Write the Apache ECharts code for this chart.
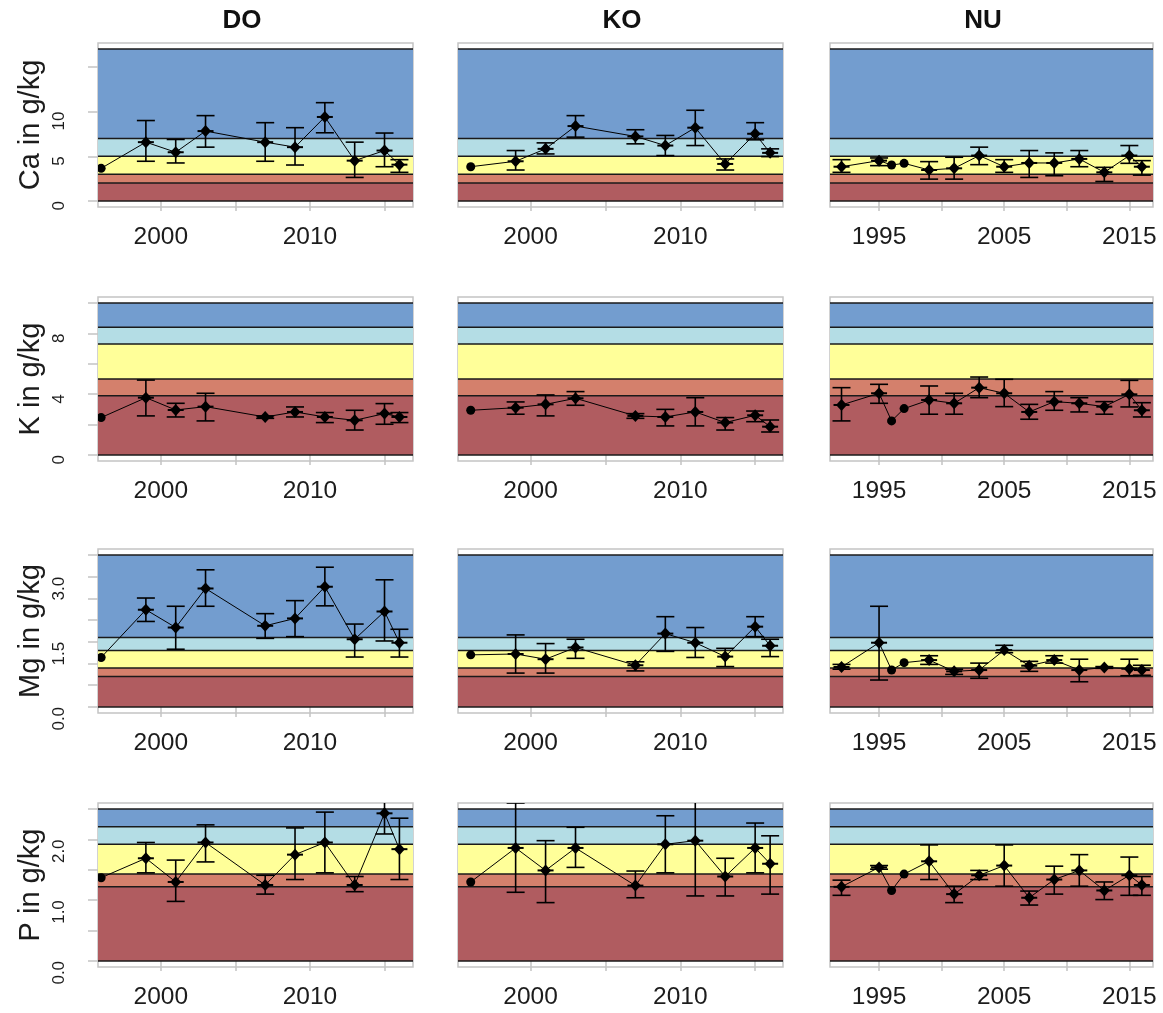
<!DOCTYPE html>
<html>
<head>
<meta charset="utf-8">
<script src="https://cdn.jsdelivr.net/npm/echarts@6/dist/echarts.min.js"></script>
<style>
html, body { margin: 0; padding: 0; background: #ffffff; }
#chart { width: 1163px; height: 1013px; }
</style>
</head>
<body>
<div id="chart"></div>
<script>
// Sampling years per site
const yearsDO = [1996, 1999, 2001, 2003, 2007, 2009, 2011, 2013, 2015, 2016];
const yearsKO = [1996, 1999, 2001, 2003, 2007, 2009, 2011, 2013, 2015, 2016];
const yearsNU = [1992, 1995, 1996, 1997, 1999, 2001, 2003, 2005, 2007, 2009, 2011, 2013, 2015, 2016];

// Calcium (g/kg): mean, lower and upper error limits
const caDO   = [3.65, 6.58, 5.45, 7.82, 6.58, 6.02, 9.40, 4.51, 5.64, 4.06];
const caDOlo = [null, 4.44, 4.25, 6.02, 4.44, 4.02, 7.63, 2.63, 3.83, 3.20];
const caDOhi = [null, 9.00, 6.88, 9.55, 8.76, 8.20, 11.00, 6.58, 7.60, 4.62];
const caKO   = [3.83, 4.44, 5.83, 8.38, 7.22, 6.20, 8.20, 4.14, 7.52, 5.38];
const caKOlo = [null, 3.46, 5.26, 7.14, 6.39, 5.08, 6.20, 3.46, 6.84, 4.96];
const caKOhi = [null, 5.64, 6.50, 9.55, 7.97, 7.33, 10.15, 4.70, 8.76, 5.83];
const caNU   = [3.83, 4.51, 4.02, 4.21, 3.46, 3.65, 5.08, 3.83, 4.25, 4.25, 4.70, 3.20, 5.08, 3.83];
const caNUlo = [3.20, 3.95, null, null, 2.44, 2.44, 4.06, 3.20, 2.63, 2.82, 3.83, 2.18, 4.21, 2.89];
const caNUhi = [4.62, 4.81, null, null, 4.40, 4.89, 6.02, 4.62, 5.64, 5.38, 5.64, 3.76, 6.20, 4.51];

// Potassium (g/kg)
const kDO   = [2.46, 3.77, 2.96, 3.18, 2.50, 2.83, 2.50, 2.28, 2.72, 2.50];
const kDOlo = [null, 2.57, 2.50, 2.24, 2.41, 2.50, 2.13, 1.64, 2.02, 2.13];
const kDOhi = [null, 4.93, 3.40, 4.06, 2.57, 3.16, 2.79, 2.94, 3.38, 2.79];
const kKO   = [2.94, 3.11, 3.33, 3.73, 2.57, 2.50, 2.83, 2.13, 2.61, 1.86];
const kKOlo = [null, 2.68, 2.57, 3.27, 2.41, 1.91, 1.91, 1.64, 2.19, 1.51];
const kKOhi = [null, 3.49, 3.95, 4.17, 2.72, 3.00, 3.77, 2.46, 2.89, 2.30];
const kNU   = [3.29, 4.06, 2.24, 3.05, 3.62, 3.40, 4.43, 4.06, 2.83, 3.51, 3.40, 3.18, 3.99, 2.94];
const kNUlo = [2.24, 3.40, null, null, 2.68, 2.68, 3.77, 3.18, 2.35, 2.94, 2.83, 2.68, 3.16, 2.50];
const kNUhi = [4.43, 4.65, null, null, 4.54, 4.06, 5.13, 4.98, 3.33, 4.17, 3.77, 3.51, 4.91, 3.44];

// Magnesium (g/kg)
const mgDO   = [1.14, 2.24, 1.83, 2.73, 1.87, 2.04, 2.77, 1.56, 2.20, 1.48];
const mgDOlo = [null, 1.97, 1.33, 2.32, 1.58, 1.62, 2.33, 1.15, 1.52, 1.15];
const mgDOhi = [null, 2.51, 2.32, 3.16, 2.15, 2.45, 3.22, 1.91, 2.93, 1.79];
const mgKO   = [1.20, 1.22, 1.10, 1.37, 0.96, 1.69, 1.48, 1.16, 1.85, 1.41];
const mgKOlo = [null, 0.78, 0.78, 1.12, 0.83, 1.28, 1.14, 0.93, 1.62, 1.16];
const mgKOhi = [null, 1.66, 1.46, 1.56, 1.04, 2.08, 1.83, 1.35, 2.08, 1.56];
const mgNU   = [0.92, 1.48, 0.85, 1.02, 1.08, 0.82, 0.85, 1.31, 0.95, 1.08, 0.85, 0.91, 0.88, 0.85];
const mgNUlo = [0.87, 0.62, null, null, 0.98, 0.75, 0.66, 1.25, 0.82, 1.01, 0.58, 0.89, 0.72, 0.73];
const mgNUhi = [0.98, 2.32, null, null, 1.18, 0.87, 1.01, 1.42, 1.05, 1.18, 1.10, 0.93, 1.10, 0.96];

// Phosphorus (g/kg)
const pDO   = [1.37, 1.69, 1.30, 1.95, 1.25, 1.75, 1.95, 1.25, 2.43, 1.84];
const pDOlo = [null, 1.45, 0.98, 1.63, 1.10, 1.34, 1.45, 1.14, 2.09, 1.34];
const pDOhi = [null, 1.95, 1.66, 2.24, 1.41, 2.19, 2.45, 1.39, 2.65, 2.35];
const pKO   = [1.30, 1.86, 1.49, 1.86, 1.24, 1.92, 1.98, 1.39, 1.86, 1.60];
const pKOlo = [null, 1.13, 0.96, 1.54, 1.04, 1.45, 1.07, 1.07, 1.45, 1.10];
const pKOhi = [null, 2.60, 1.98, 2.20, 1.48, 2.39, 2.70, 1.69, 2.27, 2.06];
const pNU   = [1.22, 1.54, 1.16, 1.43, 1.64, 1.10, 1.41, 1.57, 1.04, 1.34, 1.49, 1.16, 1.41, 1.25];
const pNUlo = [1.08, 1.51, null, null, 1.34, 0.96, 1.34, 1.23, 0.92, 1.10, 1.23, 1.01, 1.08, 1.08];
const pNUhi = [1.33, 1.57, null, null, 1.91, 1.23, 1.49, 1.91, 1.15, 1.56, 1.75, 1.30, 1.71, 1.39];

// Nutrition class boundaries (g/kg), lowest to highest
const caBands = [0, 2, 3, 5, 7, 17];
const kBands  = [0, 3.9, 5.0, 7.3, 8.4, 10];
const mgBands = [0, 0.7, 0.9, 1.3, 1.6, 3.5];
const pBands  = [0, 1.22, 1.43, 1.92, 2.21, 2.5];
const bandColors = ['#B05C60', '#D4806C', '#FFFF99', '#B4DDE5', '#739DCF'];

// Axis ticks and labelled positions
const caTicks = [0, 5, 10, 15];            const caTickLabels = [0, 5, 10];
const kTicks  = [0, 2, 4, 6, 8, 10];       const kTickLabels  = [0, 4, 8];
const mgTicks = [0, 0.5, 1, 1.5, 2, 2.5, 3, 3.5]; const mgTickLabels = [0, 1.5, 3];
const pTicks  = [0, 0.5, 1, 1.5, 2, 2.5];  const pTickLabels  = [0, 1, 2];
const yearTicks   = [2000, 2005, 2010, 2015]; const yearLabels   = [2000, 2010];
const yearTicksNU = [1995, 2000, 2005, 2010, 2015]; const yearLabelsNU = [1995, 2005, 2015];

const siteNames = ['DO', 'KO', 'NU'];

const rows = [
  { title: 'Ca in g/kg', bands: caBands, ticks: caTicks, labels: caTickLabels, dec: 0,
    sets: [[yearsDO, caDO, caDOlo, caDOhi], [yearsKO, caKO, caKOlo, caKOhi], [yearsNU, caNU, caNUlo, caNUhi]] },
  { title: 'K in g/kg', bands: kBands, ticks: kTicks, labels: kTickLabels, dec: 0,
    sets: [[yearsDO, kDO, kDOlo, kDOhi], [yearsKO, kKO, kKOlo, kKOhi], [yearsNU, kNU, kNUlo, kNUhi]] },
  { title: 'Mg in g/kg', bands: mgBands, ticks: mgTicks, labels: mgTickLabels, dec: 1,
    sets: [[yearsDO, mgDO, mgDOlo, mgDOhi], [yearsKO, mgKO, mgKOlo, mgKOhi], [yearsNU, mgNU, mgNUlo, mgNUhi]] },
  { title: 'P in g/kg', bands: pBands, ticks: pTicks, labels: pTickLabels, dec: 1,
    sets: [[yearsDO, pDO, pDOlo, pDOhi], [yearsKO, pKO, pKOlo, pKOhi], [yearsNU, pNU, pNUlo, pNUhi]] }
];

// Panel layout (pixels) and x extents per column
const colLeft  = [98, 458, 830];
const colWidth = [315, 325, 323];
const rowTop   = [43, 297, 549, 803];
const rowHeight = 164;
const xExtent = [[1995.79, 2016.91], [1995.15, 2016.86], [1991.08, 2016.89]];

const FONT = '"Liberation Sans", Arial, Helvetica, sans-serif';
const TEXT = '#1c1c1c';
const BOX = '#c4c4c4';

function renderBands(params, api) {
  const cs = params.coordSys;
  const lo = api.value(0), hi = api.value(1), idx = api.value(2);
  const yLo = api.coord([0, lo])[1];
  const yHi = api.coord([0, hi])[1];
  const kids = [
    { type: 'rect', z2: 0, shape: { x: cs.x, y: yHi, width: cs.width, height: yLo - yHi },
      style: { fill: bandColors[idx] } },
    { type: 'line', z2: 10, shape: { x1: cs.x, y1: yHi, x2: cs.x + cs.width, y2: yHi },
      style: { stroke: '#1a1a1a', lineWidth: 1.5 } }
  ];
  if (idx === 0) {
    kids.push({ type: 'line', z2: 10, shape: { x1: cs.x, y1: yLo, x2: cs.x + cs.width, y2: yLo },
      style: { stroke: '#1a1a1a', lineWidth: 1.5 } });
  }
  return { type: 'group', children: kids };
}

function renderPoints(params, api) {
  const x = api.value(0), m = api.value(1), lo = api.value(2), hi = api.value(3), hasBar = api.value(4);
  const c = api.coord([x, m]);
  const st = { stroke: '#000', lineWidth: 1.6 };
  const kids = [];
  if (hasBar) {
    const a = api.coord([x, hi]), b = api.coord([x, lo]);
    kids.push({ type: 'line', shape: { x1: c[0], y1: a[1], x2: c[0], y2: b[1] }, style: st });
    kids.push({ type: 'line', shape: { x1: c[0] - 9, y1: a[1], x2: c[0] + 9, y2: a[1] }, style: st });
    kids.push({ type: 'line', shape: { x1: c[0] - 9, y1: b[1], x2: c[0] + 9, y2: b[1] }, style: st });
    kids.push({ type: 'line', shape: { x1: c[0] - 8, y1: c[1], x2: c[0] + 8, y2: c[1] },
      style: { stroke: '#000', lineWidth: 2 } });
    kids.push({ type: 'polygon', shape: { points: [[c[0], c[1] - 6], [c[0] + 5.5, c[1]], [c[0], c[1] + 6], [c[0] - 5.5, c[1]]] },
      style: { fill: '#000' } });
  } else {
    kids.push({ type: 'circle', shape: { cx: c[0], cy: c[1], r: 4.5 }, style: { fill: '#000' } });
  }
  return { type: 'group', children: kids };
}

const grid = [], xAxis = [], yAxis = [], series = [];

rows.forEach((row, r) => {
  const top = row.bands[row.bands.length - 1];
  const pad = 0.04 * top;
  for (let c = 0; c < 3; c++) {
    const g = grid.length;
    grid.push({
      left: colLeft[c], top: rowTop[r], width: colWidth[c], height: rowHeight,
      show: true, borderColor: BOX, borderWidth: 1.5, backgroundColor: '#ffffff'
    });
    const isNU = c === 2;
    xAxis.push({
      type: 'value', gridIndex: g, min: xExtent[c][0], max: xExtent[c][1],
      axisLine: { show: false },
      splitLine: { show: false },
      axisTick: { show: true, length: 10, customValues: isNU ? yearTicksNU : yearTicks,
        lineStyle: { color: BOX, width: 1.5 } },
      axisLabel: { show: true, customValues: isNU ? yearLabelsNU : yearLabels, margin: 18,
        fontFamily: FONT, fontSize: 24.5, color: TEXT, formatter: v => String(v) }
    });
    const first = c === 0;
    yAxis.push({
      type: 'value', gridIndex: g, min: -pad, max: top + pad,
      name: first ? row.title : '', nameLocation: 'middle', nameGap: 53, nameRotate: 90,
      nameTextStyle: { fontFamily: FONT, fontSize: 29, color: TEXT },
      axisLine: { show: false },
      splitLine: { show: false },
      axisTick: { show: first, length: 10, customValues: row.ticks, lineStyle: { color: BOX, width: 1.5 } },
      axisLabel: { show: first, customValues: row.labels, rotate: 90, margin: 39,
        align: 'right', verticalAlign: 'middle',
        fontFamily: FONT, fontSize: 17, color: TEXT, formatter: v => Number(v).toFixed(row.dec) }
    });

    const bandData = [];
    for (let i = 0; i < row.bands.length - 1; i++) bandData.push([row.bands[i], row.bands[i + 1], i]);
    series.push({
      type: 'custom', xAxisIndex: g, yAxisIndex: g, z: 1, clip: true, silent: true,
      renderItem: renderBands, data: bandData, encode: { x: -1, y: [0, 1] }
    });

    const [yrs, mean, lo, hi] = row.sets[c];
    series.push({
      type: 'line', xAxisIndex: g, yAxisIndex: g, z: 3, clip: true, silent: true,
      showSymbol: false, symbol: 'none',
      lineStyle: { color: '#000', width: 1 },
      data: yrs.map((y, i) => [y, mean[i]])
    });
    series.push({
      type: 'custom', xAxisIndex: g, yAxisIndex: g, z: 4, clip: true, silent: true,
      renderItem: renderPoints,
      encode: { x: 0, y: [1, 2, 3] },
      data: yrs.map((y, i) => {
        const has = lo[i] != null && hi[i] != null;
        return [y, mean[i], has ? lo[i] : mean[i], has ? hi[i] : mean[i], has ? 1 : 0];
      })
    });
  }
});

const titleCenters = [242, 622, 983];
const graphic = siteNames.map((s, i) => ({
  type: 'text', x: titleCenters[i], y: 21,
  style: { text: s, align: 'center', verticalAlign: 'middle',
    font: 'bold 26px ' + FONT, fill: '#111' }
}));

const chart = echarts.init(document.getElementById('chart'), null, { renderer: 'canvas' });
chart.setOption({
  animation: false,
  backgroundColor: '#ffffff',
  grid, xAxis, yAxis, series, graphic
});
</script>
</body>
</html>
